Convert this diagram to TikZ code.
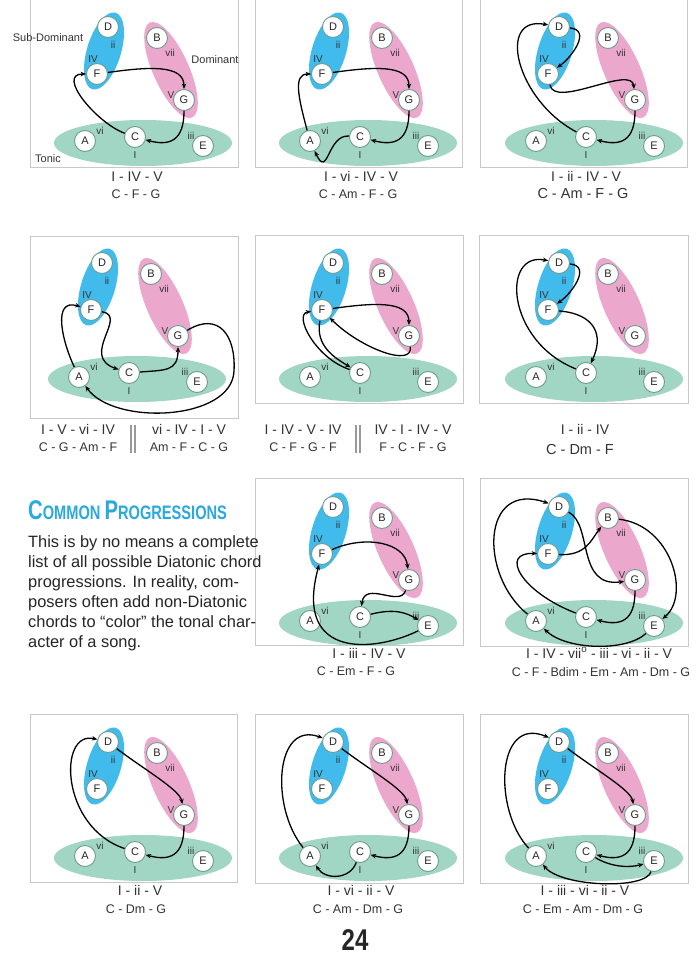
\documentclass[tikz,border=0pt]{standalone}
\usepackage{fontspec}
\usepackage{graphicx}
\setmainfont{Liberation Sans}
\usetikzlibrary{arrows.meta}
\definecolor{sdblue}{HTML}{40BBEC}
\definecolor{dpink}{HTML}{ECA8CC}
\definecolor{tgreen}{HTML}{A0D6C3}
\definecolor{framegray}{HTML}{C8C8C8}
\definecolor{nodeedge}{HTML}{6E9C8E}
\definecolor{titleblue}{HTML}{2AA8E0}
\tikzset{
  chord/.style={circle, draw=nodeedge, fill=white, line width=0.9pt, minimum size=21pt, inner sep=0pt, font=\fontsize{11}{11}\selectfont, text=black!85},
  deg/.style={inner sep=0pt, font=\fontsize{10}{10}\selectfont, text=black!80},
  grp/.style={inner sep=0pt, font=\fontsize{11}{11}\selectfont, text=black!80},
  arr/.style={draw=black, line width=1.3pt, -{Stealth[length=5.5pt,width=4.5pt]}},
  gcpath/.style={out=-90, in=-15, out distance=30, in distance=25},
  fgpath/.style={out=8, in=90, out distance=40, in distance=25},
  dfpath/.style={out=-5, in=35, out distance=22, in distance=18},
  frame/.style={draw=framegray, line width=0.8pt},
  capa/.style={anchor=base, inner sep=0pt, font=\fontsize{14}{14}\selectfont, text=black!80},
  capb/.style={anchor=base, inner sep=0pt, font=\fontsize{12.5}{12.5}\selectfont, text=black!80},
  capc/.style={anchor=base, inner sep=0pt, font=\fontsize{14.5}{14.5}\selectfont, text=black!80},
  body/.style={anchor=base west, inner sep=0pt, font=\fontsize{16.4}{20}\selectfont, text=black!85},
  bar/.style={draw=black!40, line width=1.5pt}
}
\newcommand\chordpanel[3]{%
  \begin{scope}[shift={(#2,-#3)}]
    \fill[tgreen] (143,-143) ellipse [x radius=89, y radius=23];
    \fill[sdblue, shift={(104,-51)}, rotate=73] (0,0) ellipse [x radius=40, y radius=17];
    \fill[dpink, shift={(171,-70)}, rotate=114] (0,0) ellipse [x radius=52, y radius=18];
    \node[deg] (#1ii) at (113,-45) {ii};
    \node[deg] (#1vii) at (170,-53) {vii};
    \node[deg] (#1IV) at (93,-59) {IV};
    \node[deg] (#1V) at (171,-95) {V};
    \node[deg] (#1vi) at (100,-131) {vi};
    \node[deg] (#1iii) at (191,-136) {iii};
    \node[deg] (#1I) at (135,-155) {I};
    \node[chord] (#1D) at (108,-27) {D};
    \node[chord] (#1B) at (157,-38) {B};
    \node[chord] (#1F) at (97,-74) {F};
    \node[chord] (#1G) at (184,-100) {G};
    \node[chord] (#1C) at (135,-137) {C};
    \node[chord] (#1A) at (85,-141) {A};
    \node[chord] (#1E) at (203,-146) {E};
  \end{scope}}
\begin{document}
\begin{tikzpicture}[x=1pt,y=1pt]
\useasboundingbox (0,0) rectangle (700,-960);
\fill[white] (0,0) rectangle (700,-960);
% frames
\draw[frame] (30,0) -- (30,-167) -- (238,-167) -- (238,0);
\draw[frame] (255,0) -- (255,-167) -- (462,-167) -- (462,0);
\draw[frame] (480,0) -- (480,-167) -- (687,-167) -- (687,0);
\draw[frame] (30,-236) rectangle (238,-418);
\draw[frame] (255,-235) rectangle (463,-403);
\draw[frame] (479,-235) rectangle (688,-403);
\draw[frame] (255,-478) rectangle (463,-645);
\draw[frame] (480,-478) rectangle (688,-646);
\draw[frame] (30,-714) rectangle (237,-882);
\draw[frame] (255,-714) rectangle (463,-883);
\draw[frame] (480,-714) rectangle (688,-883);
% panels
\chordpanel{a}{0}{0}
\chordpanel{b}{225}{0}
\chordpanel{c}{451}{0}
\chordpanel{d}{-6}{236}
\chordpanel{e}{225}{236}
\chordpanel{f}{451}{236}
\chordpanel{g}{225}{480}
\chordpanel{h}{451}{480}
\chordpanel{i}{0}{715}
\chordpanel{j}{225}{715}
\chordpanel{k}{451}{715}
% group labels
\node[grp] (subdom) at (48,-38) {Sub-Dominant};
\node[grp] (dom) at (215,-60) {Dominant};
\node[grp] (tonic) at (48,-159) {Tonic};
% panel a: I - IV - V
\begin{scope}[shift={(0,0)}]
\draw[arr] (aC) to[out=160, in=180, out distance=30, in distance=30] (aF);
\draw[arr] (aF) to[fgpath] (aG);
\draw[arr] (aG) to[gcpath] (aC);
\end{scope}
% panel b: I - vi - IV - V
\begin{scope}[shift={(225,0)}]
\draw[arr] (bC) to[out=175, in=-65, out distance=22, in distance=32] (bA);
\draw[arr] (bA) to[out=105, in=180, out distance=35, in distance=18] (bF);
\draw[arr] (bF) to[fgpath] (bG);
\draw[arr] (bG) to[gcpath] (bC);
\end{scope}
% panel c: I - ii - IV - V
\begin{scope}[shift={(451,0)}]
\draw[arr] (cC) .. controls (65,-100) and (45,-15) .. (cD);
\draw[arr] (cD) to[dfpath] (cF);
\draw[arr] (cF) to[out=-80, in=95, out distance=25, in distance=25] (cG);
\draw[arr] (cG) to[gcpath] (cC);
\end{scope}
% panel d: I - V - vi - IV / vi - IV - I - V
\begin{scope}[shift={(-6,-236)}]
\draw[arr] (dC) to[out=5, in=-90, out distance=25, in distance=25] (dG);
\draw[arr] (dG) .. controls (225,-75) and (242,-100) .. (240,-135) .. controls (238,-185) and (120,-190) .. (dA);
\draw[arr] (dA) .. controls (68,-105) and (58,-62) .. (dF);
\draw[arr] (dF) .. controls (135,-80) and (85,-120) .. (dC);
\end{scope}
% panel e: I - IV - V - IV / IV - I - IV - V
\begin{scope}[shift={(225,-236)}]
\draw[arr] (eF) to[fgpath] (eG);
\draw[arr] (eG) .. controls (188,-132) and (135,-112) .. (eF);
\draw[arr] (eC) .. controls (90,-122) and (68,-78) .. (eF);
\draw[arr] (eF) .. controls (90,-110) and (110,-122) .. (eC);
\end{scope}
% panel f: I - ii - IV
\begin{scope}[shift={(451,-236)}]
\draw[arr] (fC) .. controls (55,-105) and (50,-15) .. (fD);
\draw[arr] (fD) to[dfpath] (fF);
\draw[arr] (fF) .. controls (145,-78) and (153,-100) .. (fC);
\end{scope}
% panel g: I - iii - IV - V
\begin{scope}[shift={(225,-480)}]
\draw[arr] (gC) .. controls (170,-128) and (182,-133) .. (gE);
\draw[arr] (gE) .. controls (150,-172) and (68,-180) .. (gF);
\draw[arr] (gF) .. controls (140,-55) and (180,-62) .. (gG);
\draw[arr] (gG) .. controls (175,-128) and (140,-100) .. (gC);
\end{scope}
% panel h: I - IV - vii - iii - vi - ii - V
\begin{scope}[shift={(451,-480)}]
\draw[arr] (hC) .. controls (70,-112) and (48,-72) .. (hF);
\draw[arr] (hF) .. controls (135,-76) and (140,-60) .. (hB);
\draw[arr] (hB) .. controls (220,-45) and (240,-115) .. (hE);
\draw[arr] (hE) .. controls (175,-172) and (115,-170) .. (hA);
\draw[arr] (hA) .. controls (28,-95) and (30,0) .. (hD);
\draw[arr] (hD) .. controls (142,-45) and (125,-108) .. (hG);
\draw[arr] (hG) to[gcpath] (hC);
\end{scope}
% panel i: I - ii - V
\begin{scope}[shift={(0,-715)}]
\draw[arr] (iC) .. controls (60,-112) and (58,-15) .. (iD);
\draw[arr] (iD) .. controls (145,-55) and (180,-75) .. (iG);
\draw[arr] (iG) to[gcpath] (iC);
\end{scope}
% panel j: I - vi - ii - V
\begin{scope}[shift={(225,-715)}]
\draw[arr] (jC) .. controls (125,-165) and (100,-165) .. (jA);
\draw[arr] (jA) .. controls (45,-92) and (50,-5) .. (jD);
\draw[arr] (jD) .. controls (145,-55) and (180,-75) .. (jG);
\draw[arr] (jG) to[gcpath] (jC);
\end{scope}
% panel k: I - iii - vi - ii - V
\begin{scope}[shift={(451,-715)}]
\draw[arr] (kC) .. controls (160,-152) and (178,-153) .. (kE);
\draw[arr] (kE) .. controls (195,-175) and (110,-172) .. (kA);
\draw[arr] (kA) .. controls (42,-95) and (45,0) .. (kD);
\draw[arr] (kD) .. controls (145,-55) and (180,-75) .. (kG);
\draw[arr] (kG) to[gcpath] (kC);
\end{scope}
% captions
\node[capa] (ca1) at (137,-182) {I - IV - V};
\node[capb] (ca2) at (136,-198) {C - F - G};
\node[capa] (cb1) at (361,-182) {I - vi - IV - V};
\node[capb] (cb2) at (358,-198) {C - Am - F - G};
\node[capa] (cc1) at (586,-182) {I - ii - IV - V};
\node[capc] (cc2) at (583,-198) {C - Am - F - G};
\node[capa] (cd1) at (78,-434) {I - V - vi - IV};
\node[capb] (cd2) at (78,-451) {C - G - Am - F};
\node[capa] (cd3) at (189,-434) {vi - IV - I - V};
\node[capb] (cd4) at (189,-451) {Am - F - C - G};
\draw[bar] (131,-425) -- (131,-453);
\draw[bar] (135,-425) -- (135,-453);
\node[capa] (ce1) at (303,-434) {I - IV - V - IV};
\node[capb] (ce2) at (303,-451) {C - F - G - F};
\node[capa] (ce3) at (413,-434) {IV - I - IV - V};
\node[capb] (ce4) at (413,-451) {F - C - F - G};
\draw[bar] (356,-425) -- (356,-453);
\draw[bar] (360,-425) -- (360,-453);
\node[capa] (cf1) at (585,-434) {I - ii - IV};
\node[capc] (cf2) at (580,-454) {C - Dm - F};
\node[capa] (cg1) at (369,-658) {I - iii - IV - V};
\node[capb] (cg2) at (356,-675) {C - Em - F - G};
\node[capa] (ch1) at (599,-658) {I - IV - vii\textsuperscript{o} - iii - vi - ii - V};
\node[capb] (ch2) at (601,-676) {C - F - Bdim - Em - Am - Dm - G};
\node[capa] (ci1) at (140,-895) {I - ii - V};
\node[capb] (ci2) at (136,-913) {C - Dm - G};
\node[capa] (cj1) at (361,-895) {I - vi - ii - V};
\node[capb] (cj2) at (358,-913) {C - Am - Dm - G};
\node[capa] (ck1) at (585,-895) {I - iii - vi - ii - V};
\node[capb] (ck2) at (583,-913) {C - Em - Am - Dm - G};
% title and text
\node[anchor=base west, inner sep=0pt, text=titleblue] (title) at (28,-519)
  {\scalebox{0.75}[1]{\bfseries\fontsize{27}{27}\selectfont C\fontsize{19.5}{19.5}\selectfont OMMON\ \fontsize{27}{27}\selectfont P\fontsize{19.5}{19.5}\selectfont ROGRESSIONS}};
\node[body] (t1) at (28,-547) {This is by no means a complete};
\node[body] (t2) at (28,-567) {list of all possible Diatonic chord};
\node[body] (t3) at (28,-587) {progressions. In reality, com-};
\node[body] (t4) at (28,-607) {posers often add non-Diatonic};
\node[body] (t5) at (28,-627) {chords to “color” the tonal char-};
\node[body] (t6) at (28,-647) {acter of a song.};
\node[anchor=base, inner sep=0pt, text=black!85] (pagenum) at (355,-950)
  {\scalebox{0.8}[1]{\bfseries\fontsize{30}{30}\selectfont 24}};
\end{tikzpicture}
\end{document}
